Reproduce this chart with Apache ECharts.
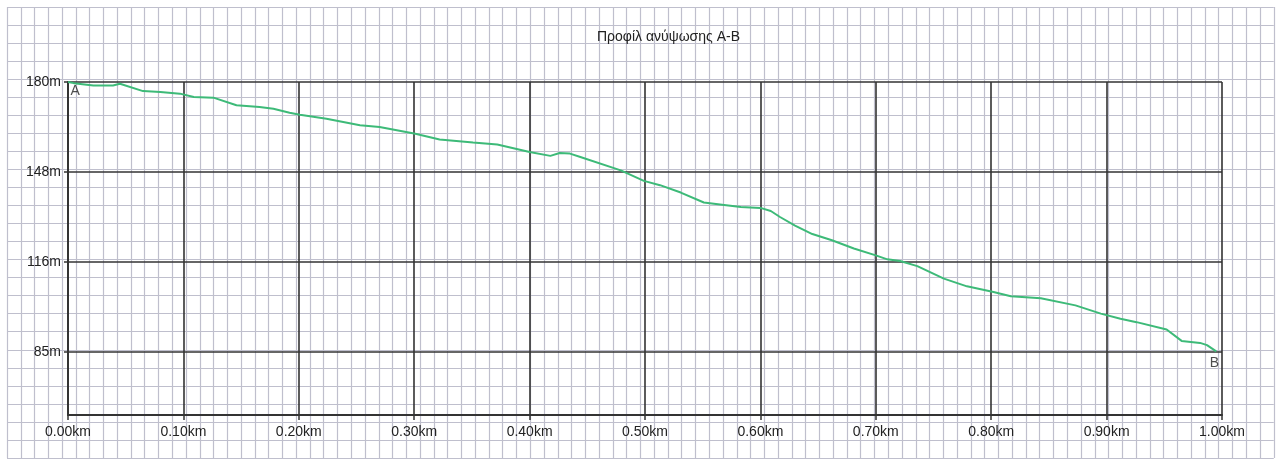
<!DOCTYPE html>
<html>
<head>
<meta charset="utf-8">
<script src="https://cdn.jsdelivr.net/npm/echarts@6/dist/echarts.min.js"></script>
<style>
html,body{margin:0;padding:0;background:#fff;}
#chart{width:1280px;height:471px;}
</style>
</head>
<body>
<div id="chart"></div>
<script>
// distance along profile (km)
const distanceKm = [0.000,0.005,0.022,0.039,0.045,0.065,0.080,0.097,0.109,0.126,0.146,0.166,0.178,0.192,0.201,0.224,0.253,0.270,0.301,0.322,0.351,0.372,0.400,0.418,0.426,0.435,0.444,0.479,0.499,0.513,0.531,0.551,0.565,0.583,0.600,0.609,0.617,0.630,0.645,0.662,0.681,0.700,0.710,0.721,0.736,0.759,0.779,0.802,0.817,0.843,0.873,0.895,0.912,0.926,0.952,0.965,0.981,0.987,0.995];
// elevation (m)
const elevationM = [180.0,179.6,178.8,178.8,179.4,176.8,176.5,175.9,174.7,174.5,171.8,171.2,170.6,169.2,168.5,167.1,164.8,164.2,161.8,159.8,158.7,158.0,155.4,154.0,155.0,154.8,153.6,148.9,145.2,143.7,141.1,137.6,136.9,136.0,135.7,134.6,132.5,129.5,126.5,124.3,121.4,119.0,117.6,117.0,115.2,110.8,108.1,106.1,104.6,103.9,101.4,98.5,96.7,95.5,92.9,88.9,88.2,87.4,85.2];
// y tick values and labels
const yTickValues = [85, 116.6667, 148.3333, 180];
const yTickLabels = ['85m', '116m', '148m', '180m'];
// end point names
const endNames = ['A', 'B'];
const titleText = 'Προφίλ ανύψωσης Α-Β';

const FONT = "'Liberation Sans Narrow','Arial Narrow','Liberation Sans',Arial,sans-serif";
const lineData = distanceKm.map((d, i) => [d, elevationM[i]]);
const endData = [
  {value: lineData[0], name: endNames[0], label: {position: [3, 3]}},
  {value: lineData[lineData.length - 1], name: endNames[1], label: {position: [-6, 5]}}
];

const chart = echarts.init(document.getElementById('chart'), null, {renderer: 'canvas'});
chart.setOption({
  animation: false,
  backgroundColor: '#ffffff',
  title: {
    text: titleText, left: 592, top: 25,
    textStyle: {fontFamily: FONT, fontSize: 14, fontWeight: 'normal', color: '#222'}
  },
  grid: [
    {left: 68, top: 82, width: 1154, height: 333, containLabel: false},
    {left: 7, top: 7, width: 1266.8, height: 451, containLabel: false}
  ],
  xAxis: [
    {
      gridIndex: 0, type: 'value', min: 0, max: 1, interval: 0.1, z: 2,
      axisLine: {show: true, onZero: false, lineStyle: {color: '#333', width: 2}},
      axisTick: {show: true, length: 5, lineStyle: {color: '#333', width: 1.5}},
      axisLabel: {margin: 10, color: '#222', fontSize: 14, fontFamily: FONT,
        formatter: v => v.toFixed(2) + 'km', showMinLabel: true, showMaxLabel: true},
      splitLine: {show: true, lineStyle: {color: '#333', width: 1.6}}
    },
    {
      gridIndex: 1, type: 'value', min: 0, max: 92, interval: 1, z: 0,
      axisLine: {show: false}, axisTick: {show: false}, axisLabel: {show: false},
      splitLine: {show: true, lineStyle: {color: '#bfbfcd', width: 1.2}}
    }
  ],
  yAxis: [
    {
      gridIndex: 0, type: 'value', min: 62.83, max: 180, z: 2,
      axisLine: {show: true, onZero: false, lineStyle: {color: '#333', width: 2}},
      axisTick: {show: true, length: 4, customValues: yTickValues, lineStyle: {color: '#333', width: 1.5}},
      axisLabel: {margin: 7, color: '#222', fontSize: 14, fontFamily: FONT,
        customValues: yTickValues,
        formatter: v => {
          let best = 0;
          yTickValues.forEach((t, i) => { if (Math.abs(t - v) < Math.abs(yTickValues[best] - v)) best = i; });
          return yTickLabels[best];
        }},
      splitLine: {show: true, lineStyle: {color: '#333', width: 1.6}}
    },
    {
      gridIndex: 1, type: 'value', min: 0, max: 25, interval: 1, z: 0,
      axisLine: {show: false}, axisTick: {show: false}, axisLabel: {show: false},
      splitLine: {show: true, lineStyle: {color: '#bfbfcd', width: 1.2}}
    }
  ],
  series: [
    {
      type: 'line', xAxisIndex: 1, yAxisIndex: 1, data: [], silent: true
    },
    {
      type: 'line', xAxisIndex: 0, yAxisIndex: 0, data: lineData, z: 5,
      showSymbol: false, smooth: false,
      lineStyle: {color: '#3dba78', width: 2}
    },
    {
      type: 'scatter', xAxisIndex: 0, yAxisIndex: 0, data: endData, z: 6,
      symbolSize: 1, itemStyle: {color: 'rgba(0,0,0,0)'},
      label: {show: true, formatter: p => p.name, color: '#222', fontSize: 14, fontFamily: FONT,
        align: 'left', verticalAlign: 'top'}
    }
  ]
});
</script>
</body>
</html>
